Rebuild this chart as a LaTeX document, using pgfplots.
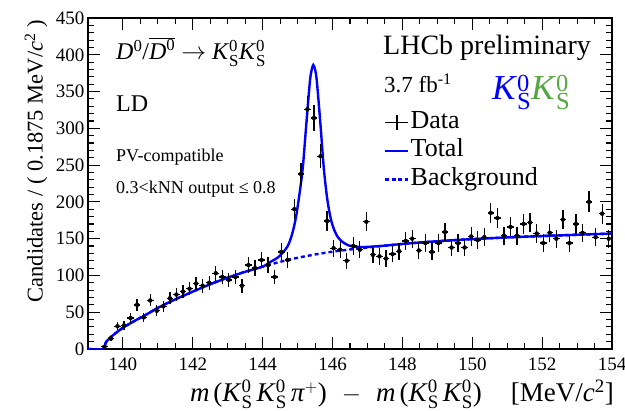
\documentclass[border=0pt]{standalone}
\usepackage{fontspec}
\setmainfont{Liberation Serif}
\usepackage{pgfplots}
\pgfplotsset{compat=1.18}
\definecolor{kgreen}{RGB}{85,165,64}
\definecolor{kblue}{RGB}{0,0,255}
\newcommand{\KS}{\textit{K}$^{\mathrm{0}}_{\mathrm{S}}$}
\begin{document}
\begin{tikzpicture}
\path[use as bounding box] (0bp,0bp) rectangle (625bp,411bp);
\begin{axis}[
  at={(88bp,62bp)}, anchor=south west,
  scale only axis, width=524bp, height=331bp,
  xmin=139, xmax=154, ymin=0, ymax=450,
  xtick={140,142,...,154}, minor x tick num=3,
  ytick={0,50,...,450}, minor y tick num=4,
  tick align=inside, xtick pos=both, ytick pos=both,
  xticklabel pos=lower, yticklabel pos=left,
  major tick length=12bp, minor tick length=6bp,
  axis line style={line width=1.3bp},
  tick style={line width=1.1bp, black},
  /pgf/number format/assume math mode=true,
  /pgf/number format/set thousands separator={},
  xticklabel style={font=\fontsize{19bp}{22bp}\selectfont, yshift=-5bp},
  yticklabel style={font=\fontsize{19bp}{22bp}\selectfont},
  xlabel={\textit{m}\hspace{4bp}(\KS\hspace{4bp}\KS\hspace{4bp}\textit{π}$^{+}$)\hspace{15bp}$-$\hspace{15bp}\textit{m}\hspace{4bp}(\KS\hspace{4bp}\KS)\hspace{29bp}[MeV/\textit{c}\textsuperscript{2}]},
  xlabel style={font=\fontsize{27bp}{31bp}\selectfont, at={(axis description cs:1.004,-0.160)}, anchor=base east, inner sep=0pt},
  ylabel={Candidates / ( 0.1875 MeV/\textit{c}\textsuperscript{2} )},
  ylabel style={font=\fontsize{22.5bp}{26bp}\selectfont, at={(axis description cs:-0.099,0.994)}, anchor=east, inner sep=0pt},
  reverse legend,
  legend cell align=left,
  legend style={draw=none, fill=none, at={(axis description cs:0.565,0.722)}, anchor=north west,
    font=\fontsize{26bp}{30bp}\selectfont, inner sep=0pt, row sep=4bp,
    nodes={inner sep=1bp, text height=17bp, text depth=5.5bp}},
]
% Background
\addplot[kblue, line width=2.4bp, dash pattern=on 4bp off 3bp, smooth,
  legend image code/.code={\draw[kblue, line width=2.4bp, dash pattern=on 4bp off 2.5bp] (0bp,0bp)--(23bp,0bp);}]
coordinates {
(139.0,0) (139.45,0) (139.5,8) (139.6,14) (139.75,20) (139.9,25.5) (140.0,29)
(140.25,36) (140.5,42.5) (140.75,49) (141.0,56) (141.5,67.5) (142.0,78)
(142.5,88) (143.0,97) (143.5,105) (144.0,112) (144.5,118.5) (145.0,124)
(145.5,128.5) (146.0,132.3) (146.5,135.3) (147.0,138) (147.5,140.5) (148.0,142.8)
(148.5,144.8) (149.0,146.5) (149.5,148) (150.0,149.4) (151.0,151.7) (152.0,153.6)
(153.0,155.3) (154.0,157)
};
\addlegendentry{Background}
% Total
\addplot[kblue, line width=2.4bp, smooth,
  legend image code/.code={\draw[kblue, line width=2.4bp] (0bp,0bp)--(23bp,0bp);}]
coordinates {
(139.0,0) (139.45,0) (139.5,8) (139.6,14) (139.75,20) (139.9,25.5) (140.0,29)
(140.25,36) (140.5,42.5) (140.75,49) (141.0,56) (141.5,67.5) (142.0,78)
(142.5,88) (143.0,97) (143.5,105) (144.0,112)
(144.25,119.2) (144.45,124.9) (144.65,135.2) (144.75,143.3) (144.85,157.4)
(144.95,178.4) (145.05,209.5) (145.15,247.4) (145.25,306.3) (145.35,362.6)
(145.40,379) (145.45,386.1) (145.50,380) (145.55,364.3) (145.65,308)
(145.75,245.8) (145.85,203.5) (145.95,176.9) (146.05,161.6) (146.15,152.2)
(146.25,146.8) (146.45,141) (146.65,139.1) (146.95,138.7) (147.45,140.3)
(148.0,142.8) (148.5,144.8) (149.0,146.5) (149.5,148) (150.0,149.4)
(151.0,151.7) (152.0,153.6) (153.0,155.3) (154.0,157)
};
\addlegendentry{Total}
% Data
\addplot[black, only marks, mark=none,
  error bars/.cd, x dir=both, x fixed=0.09375, y dir=both, y explicit,
  error mark=none, error bar style={line width=1.3bp, black},
  /pgfplots/legend image code/.code={\draw[black, line width=1.3bp] (0bp,0bp)--(23bp,0bp); \draw[black, line width=1.3bp] (11.5bp,-7.5bp)--(11.5bp,7.5bp);}]
table[x=x, y=y, y error expr={sqrt(\thisrow{y})}] {
x y
139.46875 3
139.65625 14
139.84375 31
140.03125 32
140.21875 42
140.40625 60
140.59375 43
140.78125 66
140.96875 52
141.15625 58
141.34375 69
141.53125 74
141.71875 78
141.90625 82
142.09375 89
142.28125 86
142.46875 90
142.65625 103
142.84375 98
143.03125 94
143.21875 98
143.40625 86
143.59375 114
143.78125 110
143.96875 121
144.15625 114
144.34375 98
144.53125 132
144.71875 121
144.90625 190
145.09375 238
145.28125 326
145.46875 314
145.65625 262
145.84375 174
146.03125 137
146.21875 135
146.40625 120
146.59375 140
146.78125 135
146.96875 173
147.15625 128
147.34375 126
147.53125 123
147.71875 129
147.90625 133
148.09375 147
148.28125 150
148.46875 134
148.65625 144
148.84375 132
149.03125 144
149.21875 159
149.40625 138
149.59375 144
149.78125 138
149.96875 153
150.15625 148
150.34375 152
150.53125 185
150.71875 178
150.90625 154
151.09375 166
151.28125 154
151.46875 170
151.65625 172
151.84375 157
152.03125 144
152.21875 158
152.40625 150
152.59375 176
152.78125 144
152.96875 170
153.15625 158
153.34375 200
153.53125 152
153.71875 184
153.90625 150
};
\addlegendentry{Data}
\end{axis}
\node[anchor=base west, inner sep=0pt] at (116bp,351bp) {\fontsize{24bp}{28bp}\selectfont \textit{D}$^{\mathrm{0}}$/$\overline{\textit{D}^{\mathrm{0}}}$\ $\rightarrow$ \KS\KS};
\node[anchor=base west, inner sep=0pt] at (116bp,299bp) {\fontsize{24bp}{28bp}\selectfont LD};
\node[anchor=base west, inner sep=0pt] at (116bp,249bp) {\fontsize{18bp}{21bp}\selectfont PV-compatible};
\node[anchor=base west, inner sep=0pt] at (116bp,217bp) {\fontsize{18bp}{21bp}\selectfont 0.3<kNN output ≤ 0.8};
\node[anchor=base west, inner sep=0pt] at (383bp,356bp) {\fontsize{28bp}{32bp}\selectfont LHCb preliminary};
\node[anchor=base west, inner sep=0pt] at (384bp,318bp) {\fontsize{23bp}{27bp}\selectfont 3.7 fb\textsuperscript{-1}};
\node[anchor=base west, inner sep=0pt] at (492bp,311bp) {\fontsize{35bp}{40bp}\selectfont \textcolor{kblue}{\KS}\textcolor{kgreen}{\KS}};
\end{tikzpicture}
\end{document}
